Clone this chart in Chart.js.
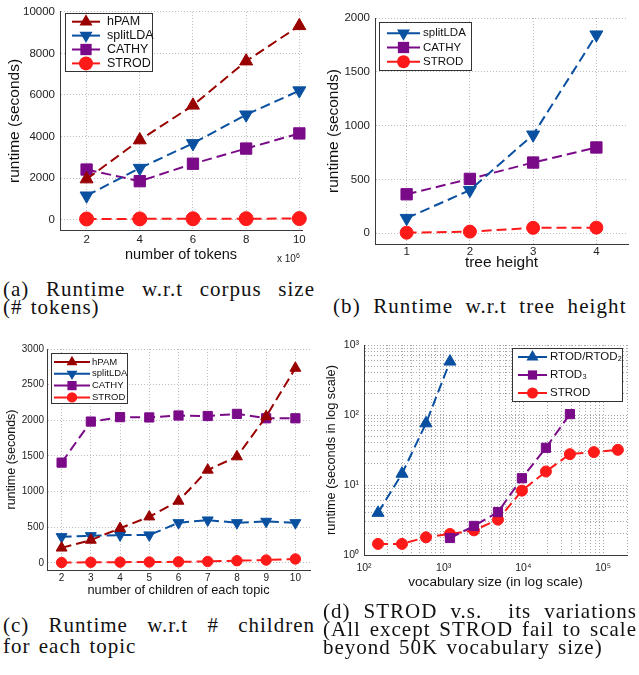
<!DOCTYPE html>
<html>
<head>
<meta charset="utf-8">
<script src="https://cdn.jsdelivr.net/npm/chart.js@4.4.1/dist/chart.umd.min.js"></script>
<style>
body { margin: 0; background: #fff; width: 639px; height: 675px; position: relative; overflow: hidden; }
canvas { position: absolute; }
.cap { position: absolute; font-family: "Liberation Serif", "DejaVu Serif", serif; font-size: 21px; line-height: 18px; color: #111; white-space: nowrap; letter-spacing: 1px; word-spacing: 2px; }
.just { text-align: justify; text-align-last: justify; white-space: normal; word-spacing: 0; }
.mag { position: absolute; font-family: "Liberation Sans", Arial, sans-serif; font-size: 10px; color: #222; }
</style>
</head>
<body>
<canvas id="ca" width="320" height="272" style="left:0;top:0;width:320px;height:272px"></canvas>
<canvas id="cb" width="319" height="275" style="left:320px;top:0;width:319px;height:275px"></canvas>
<canvas id="cc" width="320" height="270" style="left:0;top:330px;width:320px;height:270px"></canvas>
<canvas id="cd" width="319" height="270" style="left:320px;top:330px;width:319px;height:270px"></canvas>

<div class="mag" style="left:277px;top:252px">x 10<sup style="font-size:7px">6</sup></div>

<div class="cap just" style="left:3px;top:280px;width:312px">(a) Runtime w.r.t corpus size</div>
<div class="cap" style="left:3px;top:298px">(# tokens)</div>
<div class="cap" style="left:333px;top:297px;letter-spacing:1.1px;word-spacing:6px">(b) Runtime w.r.t tree height</div>
<div class="cap just" style="left:3px;top:616px;width:312px">(c) Runtime w.r.t # children</div>
<div class="cap" style="left:3px;top:637px">for each topic</div>
<div class="cap just" style="left:323px;top:602px;width:314px">(d) STROD v.s. &nbsp;its variations</div>
<div class="cap just" style="left:323px;top:620px;width:314px">(All except STROD fail to scale</div>
<div class="cap" style="left:323px;top:638px">beyond 50K vocabulary size)</div>

<script>
var SANS = '"Liberation Sans", Arial, sans-serif';
var RED_D = '#990000', BLUE = '#0a50a0', PURPLE = '#7a0a88', RED = '#ff1a1a';

// (a) runtime vs corpus size (x 10^6 tokens)
var tokensX = [2, 4, 6, 8, 10];
var aHPAM = [1950, 3830, 5500, 7630, 9330];
var aSplitLDA = [1150, 2480, 3670, 5050, 6210];
var aCATHY = [2410, 1850, 2690, 3420, 4150];
var aSTROD = [30, 35, 40, 45, 50];
var aXTicks = [2, 4, 6, 8, 10];
var aYTicks = [0, 2000, 4000, 6000, 8000, 10000];

// (b) runtime vs tree height
var heightX = [1, 2, 3, 4];
var bSplitLDA = [140, 400, 915, 1845];
var bCATHY = [362, 505, 657, 797];
var bSTROD = [5, 15, 50, 52];
var bXTicks = [1, 2, 3, 4];
var bYTicks = [0, 500, 1000, 1500, 2000];

// (c) runtime vs number of children
var childrenX = [2, 3, 4, 5, 6, 7, 8, 9, 10];
var cHPAM = [210, 320, 485, 647, 867, 1303, 1490, 2053, 2732];
var cSplitLDA = [366, 380, 390, 390, 562, 600, 562, 581, 562];
var cCATHY = [1406, 1982, 2044, 2040, 2067, 2060, 2090, 2028, 2028];
var cSTROD = [5, 8, 10, 12, 15, 20, 30, 40, 55];
var cXTicks = [2, 3, 4, 5, 6, 7, 8, 9, 10];
var cYTicks = [0, 500, 1000, 1500, 2000, 2500, 3000];

// (d) runtime vs vocabulary size (log-log)
var rtodX = [150, 300, 600, 1200];
var dRTOD = [4.0, 14.5, 76, 580];
var rtod3X = [1200, 2400, 4800, 9600, 19200, 38400];
var dRTOD3 = [1.75, 2.6, 4.1, 12.5, 34, 103];
var strodX = [150, 300, 600, 1200, 2400, 4800, 9600, 19200, 38400, 76800, 153600];
var dSTROD = [1.44, 1.44, 1.79, 2.0, 2.25, 3.2, 8.3, 15.6, 27.6, 29.5, 31.8];
var dXDecades = [100, 1000, 10000, 100000];
var dYDecades = [1, 10, 100, 1000];

function series(label, xs, ys, color, style, r, rot) {
  return {
    label: label,
    data: xs.map(function (x, i) { return { x: x, y: ys[i] }; }),
    borderColor: color, backgroundColor: color,
    borderWidth: 2, borderDash: [10, 5],
    pointStyle: style, pointRotation: rot, pointRadius: r, pointHoverRadius: r,
    pointBackgroundColor: color, pointBorderColor: color, pointBorderWidth: 1,
    tension: 0, clip: false
  };
}

// minor grid positions for log axes (1..9 per decade)
function logGrid(decades, max) {
  var out = [];
  decades.forEach(function (d) {
    for (var k = 1; k < 10; k++) if (d * k <= max) out.push(d * k);
  });
  return out;
}

var SUP = { '0': '\u2070', '1': '\u00b9', '2': '\u00b2', '3': '\u00b3', '4': '\u2074', '5': '\u2075' };
function decadeLabel(v) {
  var e = Math.log10(v);
  if (Math.abs(e - Math.round(e)) > 1e-9) return '';
  return '10' + SUP[String(Math.round(e))];
}

function axis(o) {
  return {
    type: o.type || 'linear', min: o.min, max: o.max,
    afterBuildTicks: function (s) { s.ticks = o.ticks.map(function (v) { return { value: v }; }); },
    afterFit: function (s) { if (s.isHorizontal()) s.height = o.size; else s.width = o.size; },
    grid: { color: o.gridColor || '#bdbdbd', lineWidth: 1, drawTicks: false },
    border: { color: '#3a3a3a', width: 1, dash: [1, 2] },
    ticks: {
      color: '#222', padding: o.pad, maxRotation: 0, autoSkip: false,
      font: { family: SANS, size: o.font },
      callback: o.label || function (v) { return String(v); }
    },
    title: {
      display: true, text: o.title, color: '#111',
      font: { family: SANS, size: o.titleFont }, padding: o.titlePad
    }
  };
}

function drawMarker(ctx, style, x, y, r, rot) {
  ctx.beginPath();
  if (style === 'circle') {
    ctx.arc(x, y, r, 0, Math.PI * 2);
  } else if (style === 'rect') {
    var s = r * Math.SQRT1_2;
    ctx.rect(x - s, y - s, 2 * s, 2 * s);
  } else {
    var d = rot ? -1 : 1;
    ctx.moveTo(x, y - d * r);
    ctx.lineTo(x + r * 0.866, y + d * r / 2);
    ctx.lineTo(x - r * 0.866, y + d * r / 2);
    ctx.closePath();
  }
  ctx.fill();
}

// matlab style legend: box, solid line sample with marker, label
var legendBox = {
  id: 'legendBox',
  afterDraw: function (chart, args, o) {
    var ctx = chart.ctx;
    ctx.save();
    ctx.fillStyle = '#fff';
    ctx.fillRect(o.x, o.y, o.w, o.h);
    ctx.strokeStyle = '#333';
    ctx.lineWidth = 1;
    ctx.strokeRect(o.x + 0.5, o.y + 0.5, o.w, o.h);
    chart.data.datasets.forEach(function (ds, i) {
      var y = o.y + o.first + i * o.step;
      ctx.strokeStyle = ds.borderColor;
      ctx.lineWidth = 2;
      ctx.beginPath();
      ctx.moveTo(o.x + o.line0, y);
      ctx.lineTo(o.x + o.line1, y);
      ctx.stroke();
      ctx.fillStyle = ds.borderColor;
      drawMarker(ctx, ds.pointStyle, o.x + (o.line0 + o.line1) / 2, y, ds.pointRadius, ds.pointRotation);
      ctx.fillStyle = '#111';
      ctx.font = o.font + 'px ' + SANS;
      ctx.textBaseline = 'middle';
      ctx.textAlign = 'left';
      ctx.fillText(ds.label, o.x + o.text, y);
    });
    ctx.restore();
  }
};

function panel(id, datasets, x, y, pad, legend) {
  return new Chart(document.getElementById(id), {
    type: 'line',
    data: { datasets: datasets },
    options: {
      responsive: false, animation: false,
      layout: { padding: pad },
      scales: { x: x, y: y },
      plugins: { legend: { display: false }, tooltip: { enabled: false }, legendBox: legend }
    },
    plugins: [legendBox]
  });
}

panel('ca', [
  series('hPAM', tokensX, aHPAM, RED_D, 'triangle', 7.5, 0),
  series('splitLDA', tokensX, aSplitLDA, BLUE, 'triangle', 7.5, 180),
  series('CATHY', tokensX, aCATHY, PURPLE, 'rect', 8, 0),
  series('STROD', tokensX, aSTROD, RED, 'circle', 7, 0)
],
  axis({ min: 1, max: 10.1, ticks: aXTicks, size: 42, pad: 3, font: 11.5, title: 'number of tokens', titleFont: 14.5, titlePad: { top: 0, bottom: 8 } }),
  axis({ min: -500, max: 10000, ticks: aYTicks, size: 60, pad: 5, font: 11.5, title: 'runtime (seconds)', titleFont: 15.5, titlePad: { top: 5, bottom: 0 } }),
  { top: 8, right: 18, left: 0, bottom: 0 },
  { x: 65, y: 13, w: 87, h: 58, first: 8.7, step: 13.9, line0: 7, line1: 35, text: 42, font: 12.5 });

panel('cb', [
  series('splitLDA', heightX, bSplitLDA, BLUE, 'triangle', 7.5, 180),
  series('CATHY', heightX, bCATHY, PURPLE, 'rect', 8, 0),
  series('STROD', heightX, bSTROD, RED, 'circle', 6.5, 0)
],
  axis({ min: 0.5, max: 4.5, ticks: bXTicks, size: 31, pad: 1, font: 11.5, title: 'tree height', titleFont: 15.5, titlePad: { top: 0, bottom: 3 } }),
  axis({ min: -100, max: 2000, ticks: bYTicks, size: 55, pad: 5, font: 11.5, title: 'runtime (seconds)', titleFont: 15.5, titlePad: { top: 4, bottom: 0 } }),
  { top: 18, right: 11, left: 0, bottom: 0 },
  { x: 59, y: 22, w: 92, h: 48, first: 11.3, step: 14.2, line0: 8, line1: 41, text: 44, font: 11.5 });

panel('cc', [
  series('hPAM', childrenX, cHPAM, RED_D, 'triangle', 6.3, 0),
  series('splitLDA', childrenX, cSplitLDA, BLUE, 'triangle', 6.3, 180),
  series('CATHY', childrenX, cCATHY, PURPLE, 'rect', 6.5, 0),
  series('STROD', childrenX, cSTROD, RED, 'circle', 5.2, 0)
],
  axis({ min: 1.5, max: 10.5, ticks: cXTicks, size: 30, pad: 2, font: 10, title: 'number of children of each topic', titleFont: 12.8, titlePad: { top: 0, bottom: 2 } }),
  axis({ min: -100, max: 3000, ticks: cYTicks, size: 47, pad: 3, font: 10, title: 'runtime (seconds)', titleFont: 12.5, titlePad: { top: 4.5, bottom: 0 } }),
  { top: 19, right: 10, left: 0, bottom: 0 },
  { x: 51, y: 23, w: 76, h: 50, first: 9, step: 11.8, line0: 3, line1: 39, text: 41, font: 9.5 });

panel('cd', [
  series('RTOD/RTOD\u2082', rtodX, dRTOD, BLUE, 'triangle', 7, 0),
  series('RTOD\u2083', rtod3X, dRTOD3, PURPLE, 'rect', 6.5, 0),
  series('STROD', strodX, dSTROD, RED, 'circle', 5.5, 0)
],
  axis({ type: 'logarithmic', min: 100, max: 200000, ticks: logGrid(dXDecades, 200000), size: 45, pad: 7, font: 10.5, gridColor: '#a8a8a8', label: decadeLabel, title: 'vocabulary size (in log scale)', titleFont: 13.6, titlePad: { top: 0, bottom: 9.5 } }),
  axis({ type: 'logarithmic', min: 1, max: 1000, ticks: logGrid(dYDecades, 1000), size: 44, pad: 5, font: 10.5, gridColor: '#a8a8a8', label: decadeLabel, title: 'runtime (seconds in log scale)', titleFont: 12.8, titlePad: { top: 3.5, bottom: 0 } }),
  { top: 15, right: 12, left: 0, bottom: 0 },
  { x: 192, y: 18, w: 110, h: 53, first: 9, step: 18, line0: 6, line1: 35, text: 38, font: 11.5 });
</script>
</body>
</html>
